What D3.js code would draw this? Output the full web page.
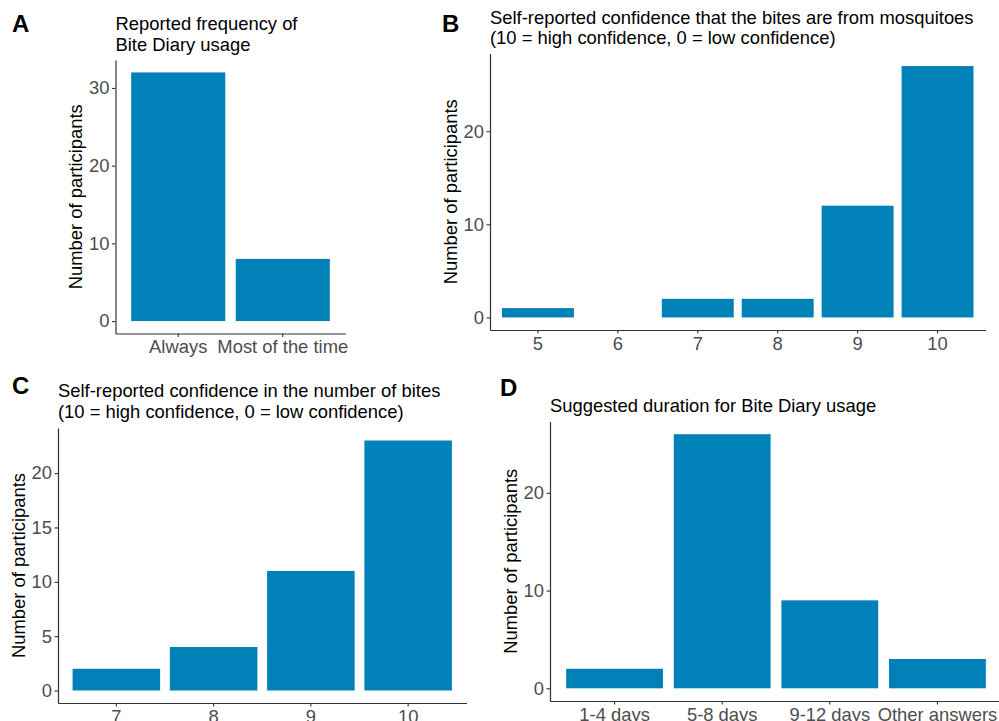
<!DOCTYPE html>
<html>
<head>
<meta charset="utf-8">
<script src="https://cdn.jsdelivr.net/npm/d3@7"></script>
<style>
  body { margin: 0; background: #fff; }
  svg text { font-family: "Liberation Sans", Arial, sans-serif; }
</style>
</head>
<body>
<script>
// bite diary survey - four bar panels (A-D)

var freqCategories = ["Always", "Most of the time"];
var freqCounts = [32, 8];

var mosquitoCategories = ["5", "6", "7", "8", "9", "10"];
var mosquitoCounts = [1, 0, 2, 2, 12, 27];

var biteCategories = ["7", "8", "9", "10"];
var biteCounts = [2, 4, 11, 23];

var durationCategories = ["1-4 days", "5-8 days", "9-12 days", "Other answers"];
var durationCounts = [2, 26, 9, 3];

var ticksA = [0, 10, 20, 30];
var ticksB = [0, 10, 20];
var ticksC = [0, 5, 10, 15, 20];
var ticksD = [0, 10, 20];

var titleA = ["Reported frequency of", "Bite Diary usage"];
var titleB = ["Self-reported confidence that the bites are from mosquitoes", "(10 = high confidence, 0 = low confidence)"];
var titleC = ["Self-reported confidence in the number of bites", "(10 = high confidence, 0 = low confidence)"];
var titleD = ["Suggested duration for Bite Diary usage"];

var yLabel = "Number of participants";

var width = 999,
    height = 721,
    barColor = "#0081b8",
    fontSize = 18.4;

var svg = d3.select("body")
    .append("svg")
    .attr("width", width)
    .attr("height", height);

function drawPanel(p) {
  var x = d3.scaleBand()
      .domain(p.cats)
      .range([p.left, p.right])
      .paddingInner(0.1)
      .paddingOuter(0.15);

  var maxV = d3.max(p.vals);
  var y = d3.scaleLinear()
      .domain([-0.05 * maxV, 1.05 * maxV])
      .range([p.bottom, p.top]);

  var g = svg.append("g");

  g.selectAll("rect")
    .data(p.vals)
    .enter().append("rect")
      .attr("x", function(d, i) { return x(p.cats[i]); })
      .attr("width", x.bandwidth())
      .attr("y", function(d) { return y(d); })
      .attr("height", function(d) { return y(0) - y(d); })
      .attr("fill", barColor);

  var xAxis = g.append("g")
      .attr("transform", "translate(0," + p.bottom + ")")
      .call(d3.axisBottom(x).tickSize(3.5).tickSizeOuter(0).tickPadding(3));

  var yAxis = g.append("g")
      .attr("transform", "translate(" + p.left + ",0)")
      .call(d3.axisLeft(y).tickValues(p.ticks).tickSize(3.5).tickSizeOuter(0).tickPadding(2.5));

  [xAxis, yAxis].forEach(function(a) {
    a.select(".domain").attr("stroke", "#333").attr("stroke-width", 1.2);
    a.selectAll(".tick line").attr("stroke", "#333").attr("stroke-width", 1.1);
    a.selectAll(".tick text")
      .attr("fill", "#4d4d4d")
      .style("font-size", fontSize + "px");
  });

  var box = yAxis.node().getBBox();
  g.append("text")
      .attr("transform", "translate(" + (p.left + box.x - 7) + "," + ((p.top + p.bottom) / 2) + ") rotate(-90)")
      .attr("text-anchor", "middle")
      .attr("fill", "#000")
      .style("font-size", fontSize + "px")
      .text(yLabel);

  g.selectAll(".title")
    .data(p.title)
    .enter().append("text")
      .attr("class", "title")
      .attr("x", p.left)
      .attr("y", function(d, i) { return p.titleY + i * 20.5; })
      .attr("fill", "#000")
      .style("font-size", fontSize + "px")
      .text(function(d) { return d; });

  g.append("text")
      .attr("x", p.tagX)
      .attr("y", p.tagY)
      .attr("fill", "#000")
      .attr("font-weight", "bold")
      .style("font-size", "24px")
      .text(p.tag);
}

drawPanel({ tag: "A", tagX: 12, tagY: 32, cats: freqCategories, vals: freqCounts, ticks: ticksA, title: titleA, titleY: 30,
            left: 115.5, right: 345.5, top: 60, bottom: 333.5 });
drawPanel({ tag: "B", tagX: 442, tagY: 32, cats: mosquitoCategories, vals: mosquitoCounts, ticks: ticksB, title: titleB, titleY: 23.5,
            left: 490, right: 985.5, top: 53.5, bottom: 330 });
drawPanel({ tag: "C", tagX: 12, tagY: 394, cats: biteCategories, vals: biteCounts, ticks: ticksC, title: titleC, titleY: 397,
            left: 58, right: 466.5, top: 428, bottom: 703 });
drawPanel({ tag: "D", tagX: 500, tagY: 396, cats: durationCategories, vals: durationCounts, ticks: ticksD, title: titleD, titleY: 411.5,
            left: 550, right: 1002, top: 421.5, bottom: 701 });
</script>
</body>
</html>
